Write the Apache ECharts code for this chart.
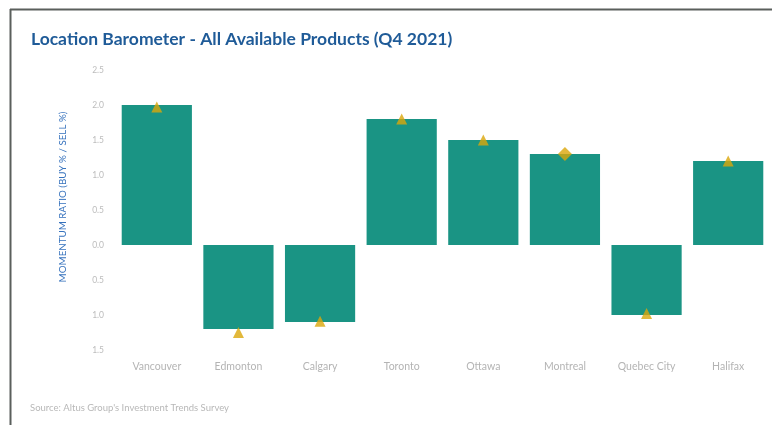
<!DOCTYPE html>
<html>
<head>
<meta charset="utf-8">
<script src="https://cdn.jsdelivr.net/npm/echarts@6/dist/echarts.min.js"></script>
<style>
  html, body { margin: 0; padding: 0; background: #ffffff; }
  #chart { width: 772px; height: 425px; }
</style>
</head>
<body>
<div id="chart"></div>
<script>
// Markets on the x axis
const cities = ['Vancouver', 'Edmonton', 'Calgary', 'Toronto', 'Ottawa', 'Montreal', 'Quebec City', 'Halifax'];
// Momentum ratio for the quarter (bars)
const momentum = [2.0, -1.2, -1.1, 1.8, 1.5, 1.3, -1.0, 1.2];
// Comparison markers (triangles; diamond for Montreal)
const markerValues = [1.97, -1.25, -1.09, 1.8, 1.5, 1.3, -0.98, 1.2];
const markerShapes = ['triangle', 'triangle', 'triangle', 'triangle', 'triangle', 'diamond', 'triangle', 'triangle'];
// Y axis range and step
const yMin = -1.5, yMax = 2.5, yStep = 0.5;

const chart = echarts.init(document.getElementById('chart'), null, { renderer: 'canvas' });

chart.setOption({
  animation: false,
  backgroundColor: '#ffffff',
  title: {
    text: 'Location Barometer - All Available Products (Q4 2021)',
    left: 26,
    top: 25,
    textStyle: { fontFamily: 'Lato', fontWeight: 'bold', fontSize: 17.5, color: '#1f5b98' }
  },
  graphic: [
    { type: 'line', shape: { x1: 10, y1: 9.5, x2: 772, y2: 9.5 }, style: { stroke: '#5a5f5c', lineWidth: 2 } },
    { type: 'line', shape: { x1: 10.5, y1: 9, x2: 10.5, y2: 425 }, style: { stroke: '#5a5f5c', lineWidth: 2 } },
    {
      type: 'text', left: 30, top: 403,
      style: { text: "Source: Altus Group's Investment Trends Survey", fill: '#b8b8b8', font: '9.5px Lato' }
    }
  ],
  grid: { left: 116, right: 3, top: 70, bottom: 75 },
  xAxis: {
    type: 'category',
    data: cities,
    position: 'bottom',
    axisLine: { show: false },
    axisTick: { show: false },
    axisLabel: { color: '#b4b4b4', fontFamily: 'Lato', fontSize: 10.5, margin: 11 }
  },
  yAxis: {
    type: 'value',
    min: yMin, max: yMax, interval: yStep,
    splitLine: { show: false },
    axisLine: { show: false },
    axisTick: { show: false },
    axisLabel: {
      color: '#bcbcbc', fontFamily: 'Lato', fontSize: 8.5, margin: 12,
      formatter: v => Math.abs(v).toFixed(1)
    },
    name: 'MOMENTUM RATIO (BUY % / SELL %)',
    nameLocation: 'middle',
    nameGap: 48,
    nameTextStyle: { color: '#3672bd', fontFamily: 'Lato', fontSize: 9.8, padding: [0, 0, 0, 26] }
  },
  series: [
    {
      type: 'bar',
      data: momentum,
      barWidth: '86%',
      itemStyle: { color: '#1a9484' }
    },
    {
      type: 'scatter',
      data: markerValues.map((v, i) => ({
        value: v,
        symbol: markerShapes[i],
        symbolSize: markerShapes[i] === 'diamond' ? 14 : 11
      })),
      itemStyle: { color: '#dba60a' },
      z: 5
    }
  ]
});
</script>
</body>
</html>
